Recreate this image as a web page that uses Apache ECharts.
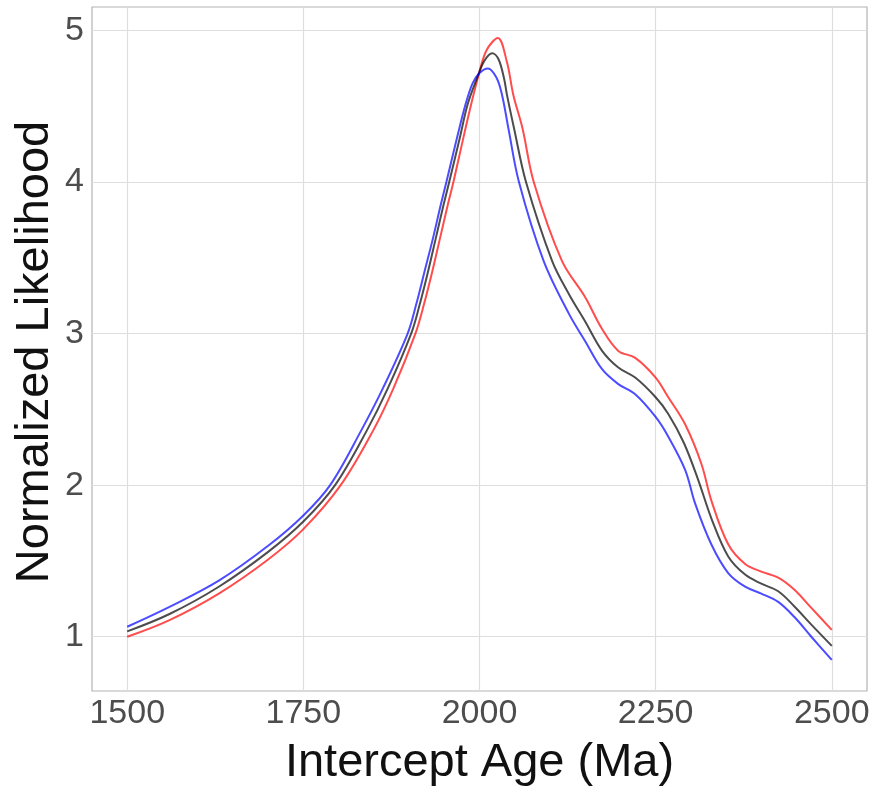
<!DOCTYPE html>
<html>
<head>
<meta charset="utf-8">
<script src="https://cdn.jsdelivr.net/npm/echarts@6/dist/echarts.min.js"></script>
<style>
  html, body { margin: 0; padding: 0; background: #fff; }
  #chart { width: 878px; height: 792px; }
</style>
</head>
<body>
<div id="chart"></div>
<script>
// ticks
var xTicks = [1500, 1750, 2000, 2250, 2500];
var yTicks = [1, 2, 3, 4, 5];

// curves, [age, likelihood]
var blackCurve = [
  [1500, 1.035], [1560, 1.15], [1630, 1.33], [1700, 1.56], [1750, 1.76],
  [1795, 2.0], [1840, 2.36], [1870, 2.64], [1903, 3.0], [1915, 3.19],
  [1927, 3.41], [1938, 3.63], [1949, 3.85], [1957, 4.0], [1972, 4.29],
  [1983, 4.51], [1996, 4.68], [2007, 4.80], [2018, 4.85], [2027, 4.81],
  [2035, 4.68], [2039, 4.575], [2049, 4.355], [2066, 4.0], [2103, 3.48],
  [2127, 3.26], [2150, 3.08], [2174, 2.886], [2197, 2.776], [2221, 2.71],
  [2250, 2.58], [2268, 2.47], [2290, 2.28], [2310, 2.04], [2330, 1.77],
  [2353, 1.53], [2377, 1.41], [2400, 1.35], [2424, 1.30], [2447, 1.20],
  [2471, 1.08], [2500, 0.94]
];
var redCurve = [
  [1500, 1.0], [1560, 1.11], [1630, 1.285], [1700, 1.51], [1750, 1.71],
  [1803, 2.0], [1849, 2.36], [1878, 2.64], [1909, 3.0], [1921, 3.19],
  [1933, 3.41], [1944, 3.63], [1955, 3.85], [1963, 4.0], [1977, 4.29],
  [1988, 4.51], [1999, 4.71], [2010, 4.87], [2026, 4.95], [2039, 4.79],
  [2048, 4.575], [2061, 4.355], [2077, 4.0], [2117, 3.48], [2150, 3.24],
  [2174, 3.03], [2197, 2.886], [2221, 2.84], [2250, 2.71], [2268, 2.58],
  [2292, 2.40], [2315, 2.14], [2329, 1.90], [2353, 1.61], [2377, 1.48],
  [2400, 1.43], [2424, 1.39], [2447, 1.31], [2471, 1.19], [2500, 1.045]
];
var blueCurve = [
  [1500, 1.066], [1560, 1.197], [1630, 1.37], [1700, 1.60], [1750, 1.80],
  [1788, 2.0], [1832, 2.36], [1863, 2.64], [1898, 3.0], [1910, 3.19],
  [1922, 3.41], [1934, 3.63], [1945, 3.85], [1953, 4.0], [1968, 4.29],
  [1980, 4.51], [1990, 4.65], [2000, 4.72], [2012, 4.75], [2024, 4.69],
  [2032, 4.575], [2041, 4.355], [2056, 4.0], [2091, 3.48], [2127, 3.13],
  [2150, 2.95], [2174, 2.765], [2197, 2.667], [2221, 2.60], [2250, 2.45],
  [2268, 2.32], [2292, 2.10], [2306, 1.88], [2329, 1.61], [2353, 1.42],
  [2377, 1.33], [2400, 1.285], [2424, 1.23], [2447, 1.13], [2471, 1.0],
  [2500, 0.847]
];

var font = 'Liberation Sans, Arial, sans-serif';

function curve(data, color) {
  return {
    type: 'line',
    data: data,
    smooth: 0.35,
    showSymbol: false,
    silent: true,
    lineStyle: { color: color, width: 2 }
  };
}

var chart = echarts.init(document.getElementById('chart'), null, { renderer: 'canvas' });
chart.setOption({
  animation: false,
  backgroundColor: '#ffffff',
  grid: {
    left: 92, right: 11, top: 7, bottom: 98,
    show: true, borderColor: '#b3b3b3', borderWidth: 1.2, backgroundColor: 'transparent'
  },
  // y title placed by hand, the axis name gets pushed away from the labels
  graphic: [{
    type: 'text',
    x: 35, y: 352,
    rotation: Math.PI / 2,
    style: {
      text: 'Normalized Likelihood',
      fontFamily: font, fontSize: 47, fill: '#111',
      align: 'center', verticalAlign: 'middle'
    }
  }],
  xAxis: {
    type: 'value',
    min: 1450, max: 2550,
    name: 'Intercept Age (Ma)',
    nameLocation: 'middle',
    nameGap: 49,
    nameTextStyle: { fontFamily: font, fontSize: 47, color: '#111' },
    axisLine: { show: false },
    axisTick: { show: false, customValues: xTicks },
    axisLabel: {
      customValues: xTicks,
      formatter: function (v) { return String(v); },
      fontFamily: font, fontSize: 34, color: '#4d4d4d', margin: 6
    },
    splitLine: { show: true, lineStyle: { color: '#dedede', width: 1.2 } }
  },
  yAxis: {
    type: 'value',
    min: 0.642, max: 5.155,
    axisLine: { show: false },
    axisTick: { show: false, customValues: yTicks },
    axisLabel: {
      customValues: yTicks,
      formatter: function (v) { return String(v); },
      fontFamily: font, fontSize: 34, color: '#4d4d4d', margin: 8
    },
    splitLine: { show: true, lineStyle: { color: '#dedede', width: 1.2 } }
  },
  series: [
    curve(redCurve, 'rgba(255,0,0,0.7)'),
    curve(blackCurve, 'rgba(0,0,0,0.7)'),
    curve(blueCurve, 'rgba(0,0,255,0.7)')
  ]
});
</script>
</body>
</html>
